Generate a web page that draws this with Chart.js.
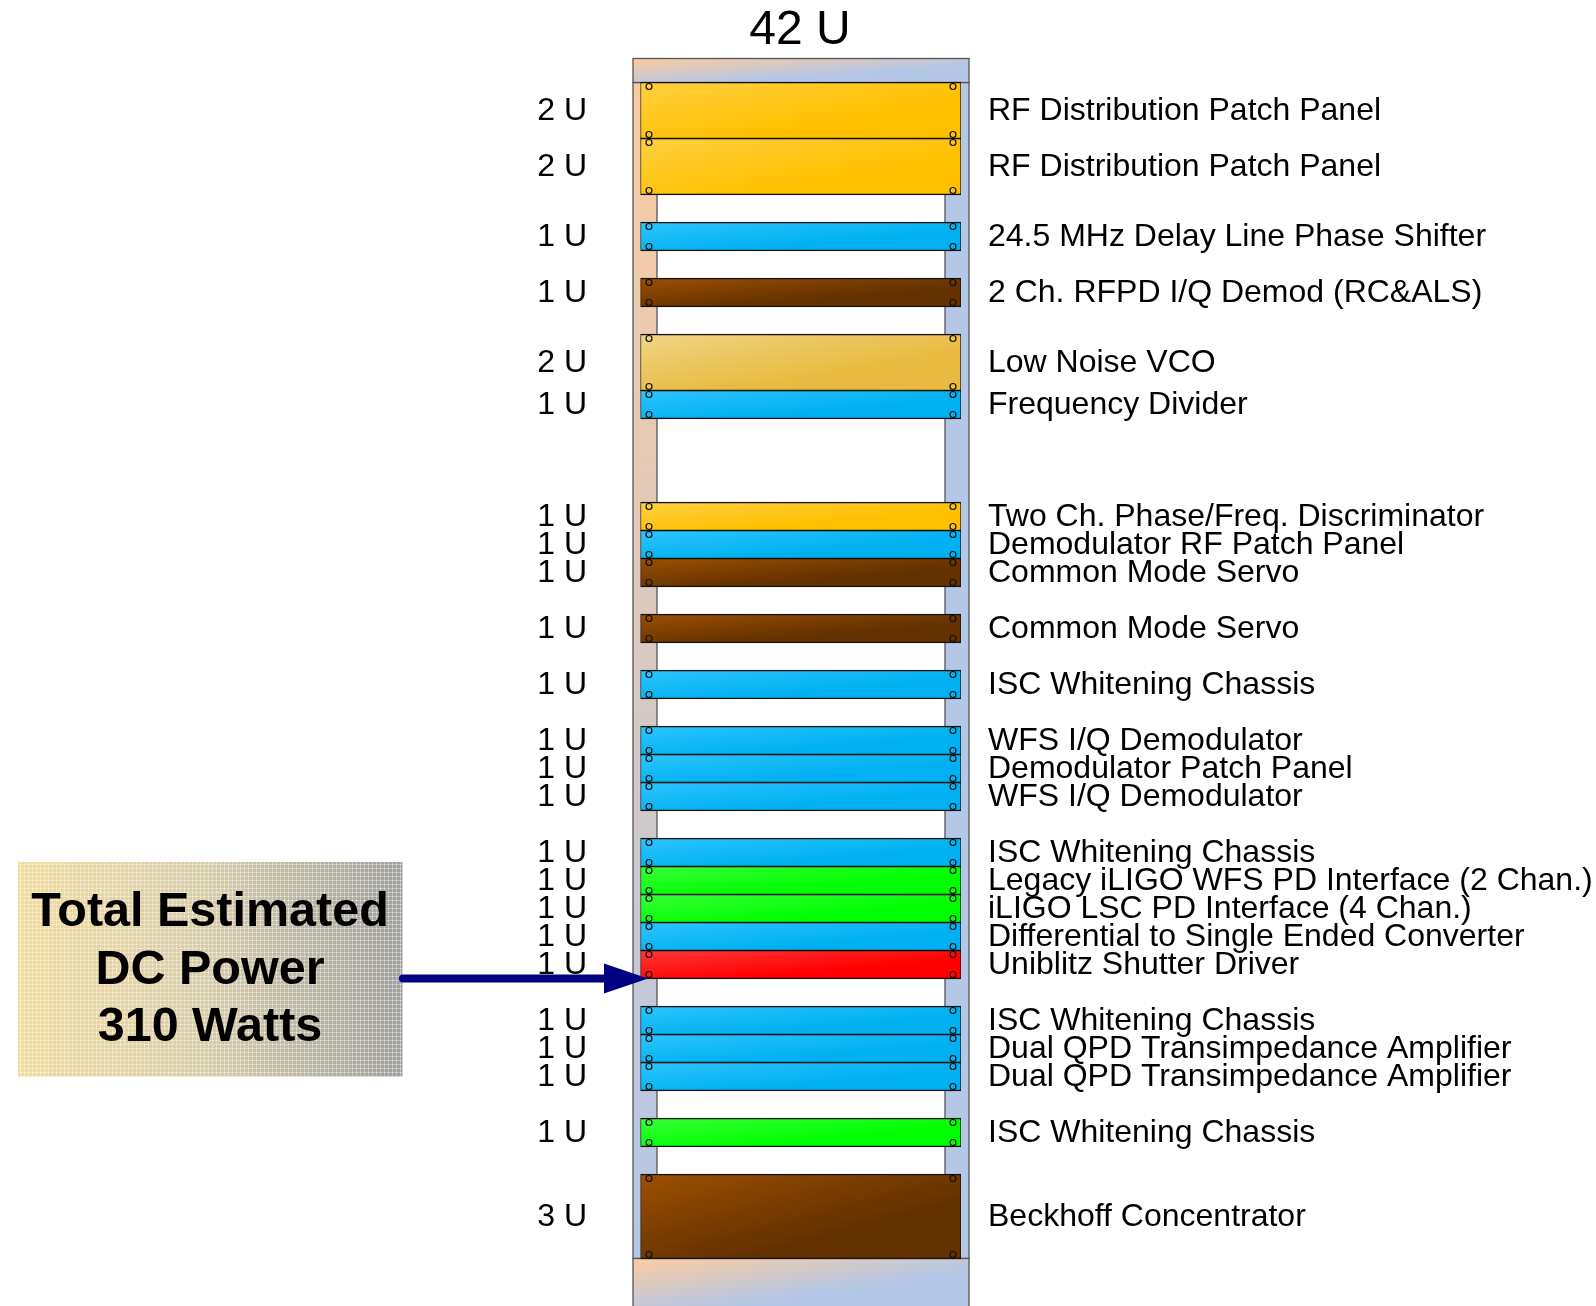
<!DOCTYPE html>
<html>
<head>
<meta charset="utf-8">
<title>42 U rack layout</title>
<script src="https://cdn.jsdelivr.net/npm/chart.js@4"></script>
<style>
    html, body { margin: 0; padding: 0; background: #fff; }
    canvas { display: block; }
</style>
</head>
<body>
<canvas id="rack-chart" width="1596" height="1306"></canvas>
<script>
// Rack contents, top to bottom. Positions are in rack units from the top of the rack.
const rackTitle = '42 U';
const rackUnits = 42;
const panelNames = [
    'RF Distribution Patch Panel', 'RF Distribution Patch Panel',
    '24.5 MHz Delay Line Phase Shifter', '2 Ch. RFPD I/Q Demod (RC&ALS)',
    'Low Noise VCO', 'Frequency Divider',
    'Two Ch. Phase/Freq. Discriminator', 'Demodulator RF Patch Panel', 'Common Mode Servo',
    'Common Mode Servo', 'ISC Whitening Chassis',
    'WFS I/Q Demodulator', 'Demodulator Patch Panel', 'WFS I/Q Demodulator',
    'ISC Whitening Chassis', 'Legacy iLIGO WFS PD Interface (2 Chan.)', 'iLIGO LSC PD Interface (4 Chan.)',
    'Differential to Single Ended Converter', 'Uniblitz Shutter Driver',
    'ISC Whitening Chassis', 'Dual QPD Transimpedance Amplifier', 'Dual QPD Transimpedance Amplifier',
    'ISC Whitening Chassis', 'Beckhoff Concentrator'
];
const panelStart = [0, 2, 5, 7, 9, 11, 15, 16, 17, 19, 21, 23, 24, 25, 27, 28, 29, 30, 31, 33, 34, 35, 37, 39];
const panelUnits = [2, 2, 1, 1, 2, 1, 1, 1, 1, 1, 1, 1, 1, 1, 1, 1, 1, 1, 1, 1, 1, 1, 1, 3];
const panelFill = [
    'gold', 'gold', 'blue', 'brown', 'tan', 'blue', 'gold', 'blue', 'brown', 'brown', 'blue',
    'blue', 'blue', 'blue', 'blue', 'green', 'green', 'blue', 'red', 'blue', 'blue', 'blue', 'green', 'brown'
];
const powerNote = ['Total Estimated', 'DC Power', '310 Watts'];

// Two stop fills, light corner first
const fills = {
    gold: ['#ffd040', '#ffc000'],
    blue: ['#2cc5ff', '#00b0f0'],
    brown: ['#9c4f00', '#633100'],
    tan: ['#f0d584', '#e8ba3f'],
    green: ['#38ff38', '#00ff00'],
    red: ['#ff3838', '#ff0000'],
    frame: ['#fbcb9f', '#b4c7e7']
};

// Page layout
const U_PX = 28;
const RACK_TOP = 82.5;
const PAGE_HEIGHT = 1306;
const PANEL_LEFT = 640.5;
const PANEL_RIGHT = 961;
const FRAME_LEFT = 633;
const FRAME_RIGHT = 969;
const RAIL_WIDTH = 24;
const CAP_TOP = 24;
const GRADIENT_REACH = 1.3;
const FONT = '"Liberation Sans", Arial, sans-serif';

// Corner to corner gradient, scaled to the box like a presentation tool does it
function diagonalGradient(ctx, x, y, w, h, stops) {
    const t = GRADIENT_REACH * w * h / (w * w + h * h);
    const grad = ctx.createLinearGradient(x, y, x + t * h, y + t * w);
    grad.addColorStop(0, stops[0]);
    grad.addColorStop(1, stops[1]);
    return grad;
}

function panelGradient(context) {
    const chart = context.chart;
    const i = context.datasetIndex;
    const stops = fills[panelFill[i]];
    const top = chart.scales.y.getPixelForValue(panelStart[i]);
    const bottom = chart.scales.y.getPixelForValue(panelStart[i] + panelUnits[i]);
    // scales are not ready on the first options pass
    if (!isFinite(top) || !isFinite(bottom) || bottom === top) {
        return stops[1];
    }
    return diagonalGradient(chart.ctx, PANEL_LEFT, top, PANEL_RIGHT - PANEL_LEFT, bottom - top, stops);
}

function drawFrame(chart) {
    const ctx = chart.ctx;
    const y = chart.scales.y;
    const top = y.getPixelForValue(0);
    const bottom = y.getPixelForValue(rackUnits);
    const width = FRAME_RIGHT - FRAME_LEFT;

    ctx.save();
    ctx.strokeStyle = '#555';
    ctx.lineWidth = 1.3;

    // rails: the left one fades down its whole length, the right one is flat
    const railGrad = ctx.createLinearGradient(0, top, 0, bottom);
    railGrad.addColorStop(0, fills.frame[0]);
    railGrad.addColorStop(1, fills.frame[1]);
    ctx.fillStyle = railGrad;
    ctx.fillRect(FRAME_LEFT, top, RAIL_WIDTH, bottom - top);
    ctx.strokeRect(FRAME_LEFT, top, RAIL_WIDTH, bottom - top);
    ctx.fillStyle = fills.frame[1];
    ctx.fillRect(FRAME_RIGHT - RAIL_WIDTH, top, RAIL_WIDTH, bottom - top);
    ctx.strokeRect(FRAME_RIGHT - RAIL_WIDTH, top, RAIL_WIDTH, bottom - top);

    // top and bottom caps
    ctx.fillStyle = diagonalGradient(ctx, FRAME_LEFT, top - CAP_TOP, width, CAP_TOP, fills.frame);
    ctx.fillRect(FRAME_LEFT, top - CAP_TOP, width, CAP_TOP);
    ctx.strokeRect(FRAME_LEFT, top - CAP_TOP, width, CAP_TOP);
    const capBottom = PAGE_HEIGHT - bottom;
    ctx.fillStyle = diagonalGradient(ctx, FRAME_LEFT, bottom, width, capBottom, fills.frame);
    ctx.fillRect(FRAME_LEFT, bottom, width, capBottom);
    ctx.strokeRect(FRAME_LEFT, bottom, width, capBottom + 4);
    ctx.restore();
}

function drawPowerBox(ctx) {
    const x = 18, y = 862, w = 384.5, h = 214.5;
    const grad = ctx.createLinearGradient(x, 0, x + w, 0);
    grad.addColorStop(0, '#f3dca0');
    grad.addColorStop(0.5, '#d5ccaa');
    grad.addColorStop(1, '#a0a09e');

    // halftone look of the original box
    const cell = document.createElement('canvas');
    cell.width = 4;
    cell.height = 4;
    const c = cell.getContext('2d');
    c.fillStyle = 'rgba(255,255,255,0.3)';
    c.fillRect(0, 0, 4, 1);
    c.fillRect(0, 0, 1, 4);
    c.fillStyle = 'rgba(255,255,255,0.45)';
    c.fillRect(0, 0, 1, 1);

    ctx.save();
    ctx.fillStyle = grad;
    ctx.fillRect(x, y, w, h);
    ctx.fillStyle = ctx.createPattern(cell, 'repeat');
    ctx.fillRect(x, y, w, h);

    ctx.fillStyle = '#000';
    ctx.font = 'bold 48.5px ' + FONT;
    ctx.textAlign = 'center';
    ctx.textBaseline = 'middle';
    powerNote.forEach((line, i) => ctx.fillText(line, 210, 913 + i * 57.5));
    ctx.restore();
}

function drawScrews(chart) {
    const ctx = chart.ctx;
    const y = chart.scales.y;
    ctx.save();
    ctx.strokeStyle = '#111';
    ctx.lineWidth = 1.2;
    panelStart.forEach((start, i) => {
        const top = y.getPixelForValue(start) + 4;
        const bottom = y.getPixelForValue(start + panelUnits[i]) - 4;
        [649, 953].forEach(sx => {
            [top, bottom].forEach(sy => {
                ctx.beginPath();
                ctx.arc(sx, sy, 3, 0, Math.PI * 2);
                ctx.stroke();
            });
        });
    });
    ctx.restore();
}

function drawLabels(chart) {
    const ctx = chart.ctx;
    const y = chart.scales.y;
    ctx.save();
    ctx.fillStyle = '#000';
    ctx.textBaseline = 'middle';
    ctx.font = '32px ' + FONT;
    panelNames.forEach((name, i) => {
        const mid = y.getPixelForValue(panelStart[i] + panelUnits[i] / 2) + 1;
        ctx.textAlign = 'right';
        ctx.fillText(panelUnits[i] + ' U', 587, mid);
        ctx.textAlign = 'left';
        ctx.fillText(name, 988, mid);
    });
    ctx.font = '48px ' + FONT;
    ctx.textAlign = 'center';
    ctx.fillText(rackTitle, 800, 31);
    ctx.restore();
}

function drawArrow(chart) {
    const ctx = chart.ctx;
    // points at the bottom edge of the shutter driver
    const ay = chart.scales.y.getPixelForValue(32);
    ctx.save();
    ctx.strokeStyle = '#000080';
    ctx.fillStyle = '#000080';
    ctx.lineWidth = 8;
    ctx.lineCap = 'round';
    ctx.beginPath();
    ctx.moveTo(403, ay);
    ctx.lineTo(610, ay);
    ctx.stroke();
    ctx.beginPath();
    ctx.moveTo(604, ay - 15);
    ctx.lineTo(648, ay);
    ctx.lineTo(604, ay + 15);
    ctx.closePath();
    ctx.fill();
    ctx.restore();
}

const rackDrawing = {
    id: 'rackDrawing',
    beforeDatasetsDraw(chart) {
        drawFrame(chart);
    },
    afterDatasetsDraw(chart) {
        drawScrews(chart);
        drawLabels(chart);
        drawPowerBox(chart.ctx);
        drawArrow(chart);
    }
};

new Chart(document.getElementById('rack-chart'), {
    type: 'bar',
    data: {
        labels: ['Rack'],
        datasets: panelNames.map((name, i) => ({
            label: name,
            data: [[panelStart[i], panelStart[i] + panelUnits[i]]],
            backgroundColor: panelGradient,
            borderColor: '#111',
            borderWidth: 1.3,
            borderSkipped: false,
            inflateAmount: 0.65,
            barPercentage: 1,
            categoryPercentage: 1
        }))
    },
    options: {
        responsive: false,
        animation: false,
        devicePixelRatio: 1,
        layout: { padding: { left: PANEL_LEFT, right: 1596 - PANEL_RIGHT, top: 0, bottom: 0 } },
        plugins: { legend: { display: false }, tooltip: { enabled: false } },
        scales: {
            x: { stacked: true, display: false },
            y: {
                display: false,
                reverse: true,
                min: -RACK_TOP / U_PX,
                max: (PAGE_HEIGHT - RACK_TOP) / U_PX
            }
        }
    },
    plugins: [rackDrawing]
});
</script>
</body>
</html>
